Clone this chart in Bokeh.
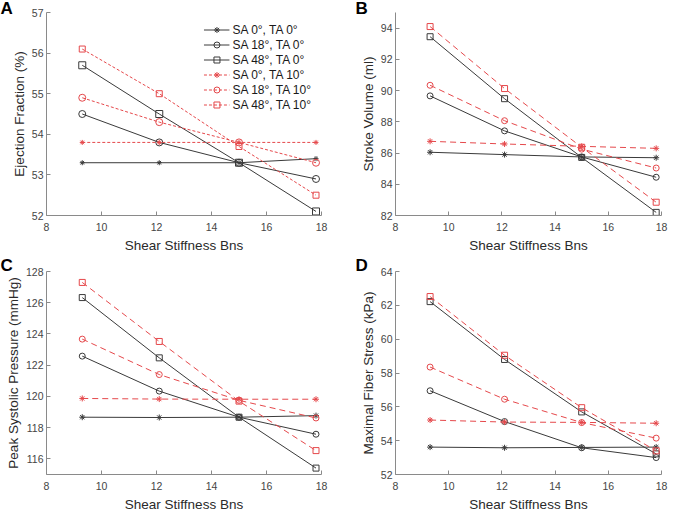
from bokeh.plotting import figure
from bokeh.layouts import gridplot
from bokeh.models import FixedTicker, Range1d, Title
from bokeh.embed import file_html
from bokeh.resources import INLINE

# ---------------- data ----------------
x_bns = [9.3, 12.1, 15.0, 17.8]
series_labels = ["SA 0°, TA 0°", "SA 18°, TA 0°", "SA 48°, TA 0°",
                 "SA 0°, TA 10°", "SA 18°, TA 10°", "SA 48°, TA 10°"]
x_ticks = [8, 10, 12, 14, 16, 18]

# A: Ejection fraction (%)
ef_sa0_ta0 = [53.3, 53.3, 53.3, 53.4]
ef_sa18_ta0 = [54.5, 53.8, 53.3, 52.9]
ef_sa48_ta0 = [55.7, 54.5, 53.3, 52.1]
ef_sa0_ta10 = [53.8, 53.8, 53.8, 53.8]
ef_sa18_ta10 = [54.9, 54.3, 53.8, 53.3]
ef_sa48_ta10 = [56.1, 55.0, 53.7, 52.5]
ef_ticks = [52, 53, 54, 55, 56, 57]

# B: Stroke volume (ml)
sv_sa0_ta0 = [86.05, 85.9, 85.75, 85.7]
sv_sa18_ta0 = [89.66, 87.42, 85.75, 84.45]
sv_sa48_ta0 = [93.45, 89.48, 85.72, 82.2]
sv_sa0_ta10 = [86.75, 86.58, 86.43, 86.3]
sv_sa18_ta10 = [90.34, 88.07, 86.25, 85.04]
sv_sa48_ta10 = [94.1, 90.13, 86.37, 82.85]
sv_ticks = [82, 84, 86, 88, 90, 92, 94]

# C: Peak systolic pressure (mmHg)
psp_sa0_ta0 = [118.67, 118.65, 118.67, 118.77]
psp_sa18_ta0 = [122.58, 120.34, 118.67, 117.58]
psp_sa48_ta0 = [126.33, 122.47, 118.67, 115.41]
psp_sa0_ta10 = [119.87, 119.83, 119.82, 119.82]
psp_sa18_ta10 = [123.67, 121.4, 119.75, 118.62]
psp_sa48_ta10 = [127.3, 123.52, 119.7, 116.53]
psp_ticks = [116, 118, 120, 122, 124, 126, 128]

# D: Maximal fiber stress (kPa)
mfs_sa0_ta0 = [53.62, 53.58, 53.6, 53.62]
mfs_sa18_ta0 = [56.95, 55.13, 53.58, 53.0]
mfs_sa48_ta0 = [62.22, 58.8, 55.7, 53.22]
mfs_sa0_ta10 = [55.22, 55.1, 55.08, 55.03]
mfs_sa18_ta10 = [58.35, 56.45, 55.07, 54.15]
mfs_sa48_ta10 = [62.52, 59.05, 55.95, 53.4]
mfs_ticks = [52, 54, 56, 58, 60, 62, 64]

# ---------------- style ----------------
FONT = "Liberation Sans"
BLACK = "#3a3a3a"
RED = "#e5484b"
markers = ["asterisk", "circle", "square", "asterisk", "circle", "square"]


def make_panel(series, y_rng, y_ticks, ylabel, letter, red_dash, msizes,
               bl, br, bt, fw, fh, letter_dx, letter_standoff, legend=False):
    p = figure(frame_width=fw, frame_height=fh, output_backend="svg",
               toolbar_location=None, x_range=Range1d(8, 18),
               y_range=Range1d(*y_rng), min_border_left=bl,
               min_border_right=br, min_border_top=bt, min_border_bottom=30)
    p.outline_line_color = None
    p.grid.visible = False
    p.background_fill_color = "white"
    for ax in (p.xaxis[0], p.yaxis[0]):
        ax.axis_line_color = "#8a8a8a"
        ax.major_tick_line_color = "#8a8a8a"
        ax.minor_tick_line_color = None
        ax.major_tick_in = 4
        ax.major_tick_out = 0
        ax.major_label_text_font = FONT
        ax.major_label_text_font_size = "10.5px"
        ax.major_label_text_color = "#454545"
        ax.axis_label_text_font = FONT
        ax.axis_label_text_font_size = "13.5px"
        ax.axis_label_text_font_style = "normal"
        ax.axis_label_text_color = "#2a2a2a"
    p.xaxis.ticker = FixedTicker(ticks=x_ticks)
    p.yaxis.ticker = FixedTicker(ticks=y_ticks)
    p.xaxis.axis_label = "Shear Stiffness Bns"
    p.yaxis.axis_label = ylabel
    p.xaxis.major_label_standoff = 7
    p.xaxis.axis_label_standoff = 4
    p.yaxis.major_label_standoff = 3
    p.yaxis.axis_label_standoff = 2

    for i, (lab, ys) in enumerate(zip(series_labels, series)):
        red = i >= 3
        col = RED if red else BLACK
        kw = dict(legend_label=lab) if legend else {}
        p.line(x_bns, ys, line_color=col, line_width=1,
               line_dash=red_dash if red else "solid", **kw)
        fill = col if markers[i] == "asterisk" else None
        p.scatter(x_bns, ys, marker=markers[i], size=msizes[i],
                  line_color=col, fill_color=fill, line_width=1, **kw)

    if legend:
        lg = p.legend[0]
        lg.location = "top_right"
        lg.margin = 8
        lg.padding = 2
        lg.spacing = 0
        lg.glyph_width = 26
        lg.glyph_height = 15
        lg.label_height = 15
        lg.label_standoff = 3
        lg.label_text_font = FONT
        lg.label_text_font_size = "12px"
        lg.label_text_color = "#1a1a1a"
        lg.background_fill_alpha = 0
        lg.border_line_alpha = 0

    p.add_layout(Title(text=letter, align="left", offset=letter_dx,
                       standoff=letter_standoff, text_font=FONT,
                       text_font_style="bold", text_font_size="17px",
                       text_color="black"), "above")
    return p


FH = 203
SIZES_A = [5, 7, 7, 5, 7, 6]
SIZES = [6, 6, 6, 6, 6, 6]
pa = make_panel([ef_sa0_ta0, ef_sa18_ta0, ef_sa48_ta0, ef_sa0_ta10,
                 ef_sa18_ta10, ef_sa48_ta10], (52, 57), ef_ticks,
                "Ejection Fraction (%)", "A", "3 2", SIZES_A,
                46, 17, 12, 275, FH, -46, -10, legend=True)
pb = make_panel([sv_sa0_ta0, sv_sa18_ta0, sv_sa48_ta0, sv_sa0_ta10,
                 sv_sa18_ta10, sv_sa48_ta10], (82, 95), sv_ticks,
                "Stroke Volume (ml)", "B", "6 4", SIZES,
                57, 8, 12, 266, FH, -40, -10)
pc = make_panel([psp_sa0_ta0, psp_sa18_ta0, psp_sa48_ta0, psp_sa0_ta10,
                 psp_sa18_ta10, psp_sa48_ta10], (115, 128), psp_ticks,
                "Peak Systolic Pressure (mmHg)", "C", "6 4", SIZES,
                46, 17, 16, 275, FH, -46, -6)
pd_ = make_panel([mfs_sa0_ta0, mfs_sa18_ta0, mfs_sa48_ta0, mfs_sa0_ta10,
                  mfs_sa18_ta10, mfs_sa48_ta10], (52, 64), mfs_ticks,
                 "Maximal Fiber Stress (kPa)", "D", "6 4", SIZES,
                 57, 8, 16, 266, FH, -40, -6)

grid = gridplot([[pa, pb], [pc, pd_]], toolbar_location=None)

open("out.html", "w").write(file_html(grid, INLINE))
